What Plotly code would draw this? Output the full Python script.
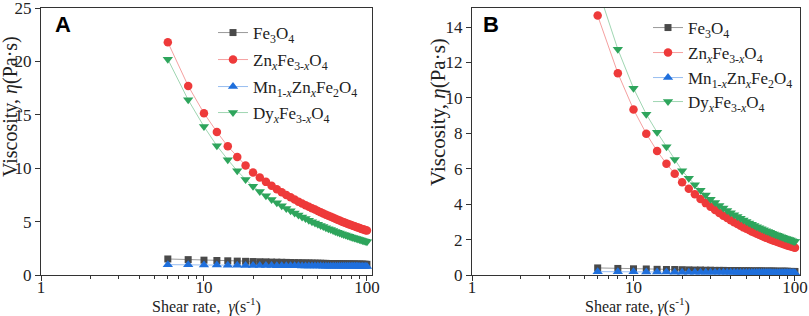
import plotly.graph_objects as go

# Shear rate (s^-1)
shear = [6, 8, 10, 12, 14, 16, 18, 20, 22, 24, 26, 28, 30, 32, 34, 36, 38, 40, 42, 44, 46, 48, 50,
         52, 54, 56, 58, 60, 62, 64, 66, 68, 70, 72, 74, 76, 78, 80, 82, 84, 86, 88, 90, 92, 94, 96, 98, 100]

# Panel A viscosities (Pa·s)
a_fe3o4 = [1.50, 1.44, 1.39, 1.36, 1.33, 1.30, 1.28, 1.26, 1.24, 1.23, 1.21, 1.20, 1.19, 1.18, 1.17, 1.16,
           1.15, 1.14, 1.13, 1.13, 1.12, 1.11, 1.11, 1.10, 1.09, 1.09, 1.08, 1.08, 1.07, 1.07, 1.06, 1.06,
           1.05, 1.05, 1.04, 1.04, 1.04, 1.03, 1.03, 1.03, 1.02, 1.02, 1.02, 1.01, 1.01, 1.01, 1.00, 1.00]
a_zn = [21.8, 17.7, 15.15, 13.4, 12.05, 11.05, 10.25, 9.6, 9.13, 8.72, 8.35, 8.03, 7.75, 7.50, 7.27, 7.06,
        6.87, 6.70, 6.54, 6.39, 6.26, 6.13, 6.00, 5.88, 5.76, 5.65, 5.55, 5.45, 5.35, 5.26, 5.18, 5.10,
        5.02, 4.95, 4.87, 4.81, 4.74, 4.68, 4.62, 4.56, 4.50, 4.45, 4.39, 4.34, 4.29, 4.25, 4.20, 4.16]
a_mn = [0.97, 0.95, 0.94, 0.93, 0.92, 0.91, 0.90, 0.89, 0.89, 0.88, 0.88, 0.87, 0.87, 0.87, 0.86, 0.86,
        0.86, 0.85, 0.85, 0.85, 0.84, 0.84, 0.84, 0.84, 0.83, 0.83, 0.83, 0.83, 0.83, 0.82, 0.82, 0.82,
        0.82, 0.82, 0.82, 0.81, 0.81, 0.81, 0.81, 0.81, 0.81, 0.81, 0.80, 0.80, 0.80, 0.80, 0.80, 0.80]
a_dy = [20.2, 16.4, 13.9, 12.1, 10.8, 9.75, 8.95, 8.30, 7.83, 7.43, 7.07, 6.76, 6.48, 6.23, 6.01, 5.80,
        5.61, 5.44, 5.28, 5.13, 4.99, 4.86, 4.75, 4.63, 4.53, 4.43, 4.34, 4.25, 4.16, 4.08, 4.01, 3.93,
        3.87, 3.80, 3.74, 3.68, 3.62, 3.56, 3.51, 3.46, 3.41, 3.36, 3.32, 3.27, 3.23, 3.19, 3.15, 3.11]

# Panel B viscosities (Pa·s)
b_fe3o4 = [0.40, 0.37, 0.35, 0.34, 0.32, 0.31, 0.31, 0.30, 0.29, 0.28, 0.28, 0.27, 0.27, 0.26, 0.26, 0.26,
           0.25, 0.25, 0.25, 0.25, 0.24, 0.24, 0.24, 0.24, 0.23, 0.23, 0.23, 0.23, 0.23, 0.22, 0.22, 0.22,
           0.22, 0.22, 0.22, 0.21, 0.21, 0.21, 0.21, 0.21, 0.21, 0.21, 0.21, 0.20, 0.20, 0.20, 0.20, 0.20]
b_zn = [14.65, 11.4, 9.35, 7.98, 7.00, 6.28, 5.72, 5.24, 4.87, 4.56, 4.29, 4.06, 3.85, 3.67, 3.50, 3.35,
        3.22, 3.09, 2.98, 2.88, 2.78, 2.69, 2.61, 2.54, 2.46, 2.40, 2.33, 2.27, 2.22, 2.16, 2.11, 2.07,
        2.02, 1.98, 1.94, 1.90, 1.86, 1.83, 1.79, 1.76, 1.73, 1.70, 1.67, 1.64, 1.62, 1.59, 1.57, 1.54]
b_mn = [0.19, 0.18, 0.18, 0.17, 0.17, 0.17, 0.16, 0.16, 0.16, 0.16, 0.16, 0.15, 0.15, 0.15, 0.15, 0.15,
        0.15, 0.15, 0.15, 0.14, 0.14, 0.14, 0.14, 0.14, 0.14, 0.14, 0.14, 0.14, 0.14, 0.14, 0.14, 0.14,
        0.14, 0.13, 0.13, 0.13, 0.13, 0.13, 0.13, 0.13, 0.13, 0.13, 0.13, 0.13, 0.13, 0.13, 0.13, 0.13]
b_dy = [16.2, 12.75, 10.55, 9.08, 8.06, 7.25, 6.52, 5.89, 5.46, 5.10, 4.79, 4.52, 4.28, 4.10, 3.93, 3.78,
        3.64, 3.52, 3.40, 3.30, 3.20, 3.11, 3.02, 2.94, 2.87, 2.80, 2.73, 2.67, 2.61, 2.56, 2.50, 2.45,
        2.41, 2.36, 2.32, 2.27, 2.24, 2.20, 2.16, 2.13, 2.09, 2.06, 2.03, 2.00, 1.97, 1.94, 1.91, 1.89]

names = ["Fe<sub>3</sub>O<sub>4</sub>",
         "Zn<sub><i>x</i></sub>Fe<sub>3-<i>x</i></sub>O<sub>4</sub>",
         "Mn<sub>1-<i>x</i></sub>Zn<sub><i>x</i></sub>Fe<sub>2</sub>O<sub>4</sub>",
         "Dy<sub><i>x</i></sub>Fe<sub>3-<i>x</i></sub>O<sub>4</sub>"]
marker_colors = ["#4a4a4a", "#ee3a3a", "#1f6fdc", "#2ea55c"]
line_colors = ["#9a9a9a", "#f5a0a0", "#98bdf0", "#9fd6b2"]
symbols = ["square", "circle", "triangle-up", "triangle-down"]
sizes = [7, 8.5, 9, 9]

x_ticks = [1, 10, 100]
minor_vals = [2, 3, 4, 5, 6, 7, 8, 9, 20, 30, 40, 50, 60, 70, 80, 90]

FONT = "Times New Roman, Liberation Serif, serif"
W, H = 809, 316

# legend row centres (px from top) for each panel
legA_rows = [33, 60, 87, 113]
legB_rows = [28, 53, 78, 102]

fig = go.Figure()
legend_layout = {}
k = 0
for series, xa, ya, rows, lx in [
        ([a_fe3o4, a_zn, a_mn, a_dy], "x", "y", legA_rows, 213),
        ([b_fe3o4, b_zn, b_mn, b_dy], "x2", "y2", legB_rows, 648)]:
    for i, vals in enumerate(series):
        k += 1
        lname = "legend" if k == 1 else f"legend{k}"
        fig.add_trace(go.Scatter(
            x=shear, y=vals, mode="lines+markers", name=names[i],
            line=dict(color=line_colors[i], width=1),
            marker=dict(symbol=symbols[i], size=sizes[i], color=marker_colors[i], line=dict(width=0)),
            xaxis=xa, yaxis=ya, legend=lname, showlegend=True))
        legend_layout[lname] = dict(x=lx / W, y=1 - rows[i] / H, xanchor="left", yanchor="middle",
                                    bgcolor="rgba(0,0,0,0)", borderwidth=0,
                                    font=dict(family=FONT, size=17, color="#222"), itemwidth=30)

xcommon = dict(type="log", range=[0, 2.031], tickvals=x_ticks, ticktext=["1", "10", "100"],
               ticks="outside", ticklen=5, tickwidth=1, tickcolor="#333", ticklabelstandoff=-8,
               minor=dict(tickvals=minor_vals, ticks="outside", ticklen=3, tickcolor="#333", showgrid=False),
               showline=True, linecolor="#333", linewidth=1, mirror=True, showgrid=False, zeroline=False,
               tickfont=dict(family=FONT, size=17, color="#222"), ticklabeloverflow="allow",
               automargin=False)
ycommon = dict(ticks="outside", ticklen=5, tickwidth=1, tickcolor="#333",
               showline=True, linecolor="#333", linewidth=1, mirror=True, showgrid=False, zeroline=False,
               tickfont=dict(family=FONT, size=17, color="#222"), ticklabeloverflow="allow",
               automargin=False)

def ann(text, xpx, ypx, size, angle=0):
    return dict(text=text, textangle=angle, x=xpx / W, y=1 - ypx / H, xref="paper", yref="paper",
                xanchor="center", yanchor="middle", showarrow=False,
                font=dict(family=FONT, size=size, color="#222"))

fig.update_layout(
    width=W, height=H,
    margin=dict(l=0, r=0, t=0, b=0),
    paper_bgcolor="white", plot_bgcolor="white",
    xaxis=dict(domain=[41/W, 372/W], anchor="y", **xcommon),
    yaxis=dict(domain=[1-275/H, 1-8/H], anchor="x", range=[0, 25], dtick=5, **ycommon),
    xaxis2=dict(domain=[472/W, 800/W], anchor="y2", **xcommon),
    yaxis2=dict(domain=[1-275/H, 1-8/H], anchor="x2", range=[0, 15.08], dtick=2, **ycommon),
    annotations=[
        dict(text="<b>A</b>", x=53/W, y=1-25/H, xref="paper", yref="paper", xanchor="left", yanchor="middle",
             showarrow=False, font=dict(family="Arial, Liberation Sans, sans-serif", size=22, color="black")),
        dict(text="<b>B</b>", x=481/W, y=1-25/H, xref="paper", yref="paper", xanchor="left", yanchor="middle",
             showarrow=False, font=dict(family="Arial, Liberation Sans, sans-serif", size=22, color="black")),
        ann("Viscosity, <i>η</i>(Pa·s)", 10, 107, 20, -90),
        ann("Viscosity, <i>η</i>(Pa·s)", 438, 112, 21, -90),
        ann("Shear rate,  <i>γ</i>(s<sup>-1</sup>)", 206, 305, 16),
        ann("Shear rate, <i>γ</i>(s<sup>-1</sup>)", 637, 305, 16),
    ],
    **legend_layout,
)

fig.write_html("out.html", post_script="document.body.style.margin='0px';",
               config={"displayModeBar": False})
